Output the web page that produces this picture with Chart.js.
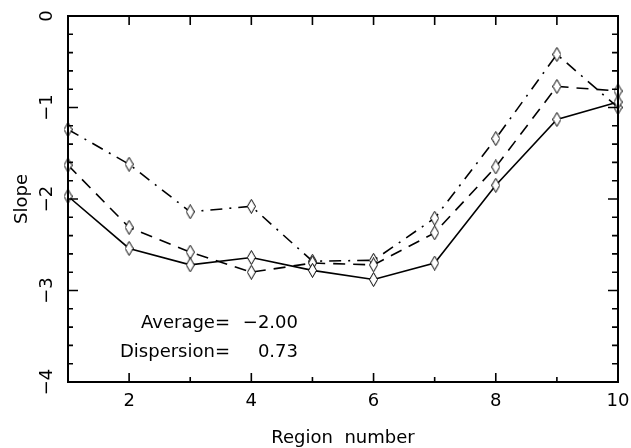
<!DOCTYPE html>
<html lang="en">
<head>
    <meta charset="UTF-8">
    <title>Slope by region</title>
    <script src="https://cdn.jsdelivr.net/npm/chart.js@4.4.1/dist/chart.umd.min.js"></script>
    <style>
        html, body { margin: 0; padding: 0; background: #fff; }
        #wrap { width: 631px; height: 448px; }
    </style>
</head>
<body>
<div id="wrap"><canvas id="slopeChart"></canvas></div>
<script>
    // data
    const regions = [1, 2, 3, 4, 5, 6, 7, 8, 9, 10];
    const slopeSolid = [-1.97, -2.54, -2.72, -2.64, -2.78, -2.88, -2.70, -1.85, -1.13, -0.94];
    const slopeDashed = [-1.63, -2.31, -2.58, -2.80, -2.70, -2.72, -2.37, -1.65, -0.77, -0.82];
    const slopeDashDot = [-1.24, -1.62, -2.14, -2.08, -2.68, -2.67, -2.21, -1.34, -0.42, -1.00];
    const xTickLabels = [2, 4, 6, 8, 10];
    const yTickLabels = [0, -1, -2, -3, -4];
    const statLabels = ['Average=', 'Dispersion='];
    const statValues = ['\u22122.00', '0.73'];

    const FONT = '"DejaVu Sans", sans-serif';

    // hollow diamond marker, taller than wide
    function diamond() {
        const c = document.createElement('canvas');
        c.width = 9; c.height = 15;
        const g = c.getContext('2d');
        g.strokeStyle = '#000';
        g.lineWidth = 1;
        g.beginPath();
        g.moveTo(4.5, 0.5); g.lineTo(8.5, 7.5); g.lineTo(4.5, 14.5); g.lineTo(0.5, 7.5);
        g.closePath();
        g.fillStyle = '#fff';
        g.fill();
        g.stroke();
        return c;
    }
    const marker = diamond();

    function series(values, dash) {
        return {
            data: regions.map((r, i) => ({ x: r, y: values[i] })),
            borderColor: '#000',
            borderWidth: 1.6,
            borderDash: dash,
            pointStyle: marker,
            clip: false,
            tension: 0
        };
    }

    // axes frame, inward ticks, labels and annotation text
    const frame = {
        id: 'frame',
        afterDatasetsDraw(chart) {
            const ctx = chart.ctx;
            const xs = chart.scales.x, ys = chart.scales.y;
            const a = chart.chartArea;
            ctx.save();
            ctx.strokeStyle = '#000';
            ctx.lineWidth = 2;
            ctx.strokeRect(a.left, a.top, a.right - a.left, a.bottom - a.top);

            ctx.lineWidth = 1.6;
            ctx.beginPath();
            for (let v = 1; v <= 10; v++) {
                const px = xs.getPixelForValue(v);
                const major = v % 2 === 0;
                ctx.moveTo(px, a.bottom); ctx.lineTo(px, a.bottom - (major ? 9 : 5));
                ctx.moveTo(px, a.top); ctx.lineTo(px, a.top + 9);
            }
            for (let k = 0; k <= 20; k++) {
                const v = -k * 0.2;
                const py = ys.getPixelForValue(v);
                const major = k % 5 === 0;
                ctx.moveTo(a.left, py); ctx.lineTo(a.left + (major ? 10 : 5), py);
                ctx.moveTo(a.right, py); ctx.lineTo(a.right - (major ? 10 : 6), py);
            }
            ctx.stroke();

            ctx.fillStyle = '#000';
            ctx.font = '18px ' + FONT;
            ctx.textAlign = 'center';
            ctx.textBaseline = 'top';
            xTickLabels.forEach(v => {
                ctx.fillText(String(v), xs.getPixelForValue(v), a.bottom + 10);
            });
            yTickLabels.forEach(v => {
                const py = ys.getPixelForValue(v);
                ctx.save();
                ctx.translate(a.left - 21, py);
                ctx.rotate(-Math.PI / 2);
                ctx.textBaseline = 'middle';
                ctx.fillText(v < 0 ? '\u2212' + Math.abs(v) : String(v), 0, 0);
                ctx.restore();
            });

            ctx.font = '18px ' + FONT;
            ctx.textBaseline = 'alphabetic';
            ctx.fillText('Region  number', (a.left + a.right) / 2, 443);
            ctx.save();
            ctx.translate(27, (a.top + a.bottom) / 2);
            ctx.rotate(-Math.PI / 2);
            ctx.fillText('Slope', 0, 0);
            ctx.restore();

            const rows = [328, 357];
            statLabels.forEach((t, i) => {
                ctx.textAlign = 'right';
                ctx.fillText(t, 230, rows[i]);
                ctx.fillText(statValues[i], 298, rows[i]);
            });
            ctx.restore();
        }
    };

    new Chart(document.getElementById('slopeChart'), {
        type: 'line',
        data: {
            datasets: [
                series(slopeSolid, []),
                series(slopeDashed, [12, 8]),
                series(slopeDashDot, [12, 7, 2, 7])
            ]
        },
        options: {
            responsive: true,
            maintainAspectRatio: false,
            animation: false,
            layout: { padding: { left: 68, top: 16, right: 13, bottom: 66 } },
            plugins: { legend: { display: false }, tooltip: { enabled: false } },
            scales: {
                x: { type: 'linear', min: 1, max: 10, display: false },
                y: { type: 'linear', min: -4, max: 0, display: false }
            }
        },
        plugins: [frame]
    });
</script>
</body>
</html>
